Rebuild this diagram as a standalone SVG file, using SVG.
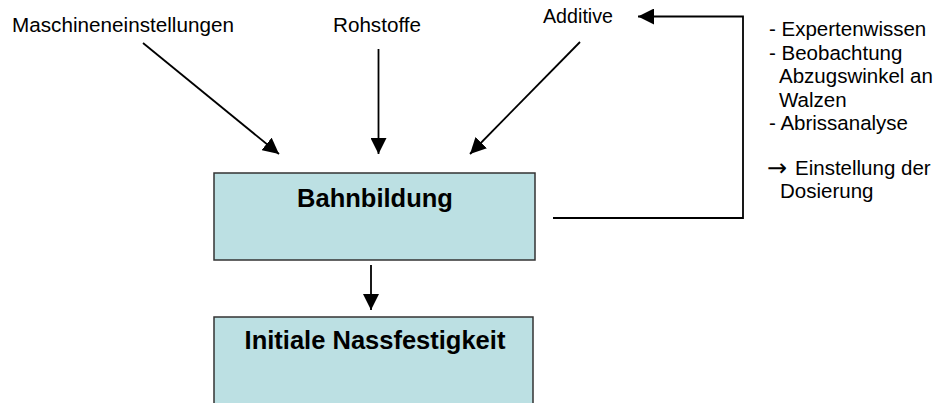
<svg xmlns="http://www.w3.org/2000/svg" width="943" height="403" viewBox="0 0 943 403">
  <style>
    .lbl { font-family: "Liberation Sans", Arial, sans-serif; font-size: 20.5px; fill: #000; }
    .sym { font-family: "DejaVu Sans", sans-serif; font-size: 24px; }
    .title { font-family: "Liberation Sans", Arial, sans-serif; font-size: 25.5px; font-weight: bold; fill: #000; }
    .box { fill: #BCE0E3; stroke: #333; stroke-width: 1.5; }
    .conn { fill: none; stroke: #000; stroke-width: 1.8; }
  </style>
  <defs>
    <marker id="arrow" viewBox="0 0 16 16" refX="16" refY="8" markerWidth="16" markerHeight="16" markerUnits="userSpaceOnUse" orient="auto">
      <path d="M0,0 L16,8 L0,16 Z" fill="#000"/>
    </marker>
  </defs>

  <!-- input labels -->
  <g id="maschineneinstellungen">
    <text class="lbl" x="12" y="32" textLength="222" lengthAdjust="spacingAndGlyphs">Maschineneinstellungen</text>
  </g>
  <g id="rohstoffe">
    <text class="lbl" x="333" y="32" textLength="88" lengthAdjust="spacingAndGlyphs">Rohstoffe</text>
  </g>
  <g id="additive">
    <text class="lbl" x="543" y="23" textLength="70" lengthAdjust="spacingAndGlyphs">Additive</text>
  </g>

  <!-- process boxes -->
  <g id="bahnbildung">
    <rect class="box" x="214" y="173" width="321" height="87"/>
    <text class="title" x="375" y="207" text-anchor="middle">Bahnbildung</text>
  </g>
  <g id="nassfestigkeit">
    <rect class="box" x="214" y="317" width="319" height="100"/>
    <text class="title" x="375" y="349" text-anchor="middle">Initiale Nassfestigkeit</text>
  </g>

  <!-- feedback notes -->
  <g id="rueckmeldung">
    <text class="lbl">
      <tspan x="769" y="36">- Expertenwissen</tspan>
      <tspan x="769" y="59.5">- Beobachtung</tspan>
      <tspan x="779" y="83">Abzugswinkel an</tspan>
      <tspan x="779" y="106.5">Walzen</tspan>
      <tspan x="769" y="130">- Abrissanalyse</tspan>
      <tspan class="sym" x="767" y="176">→</tspan><tspan x="795" y="175">Einstellung der</tspan>
      <tspan x="780" y="198">Dosierung</tspan>
    </text>
  </g>

  <!-- connectors -->
  <g id="connectors">
    <line class="conn" x1="143" y1="43" x2="279" y2="154" marker-end="url(#arrow)"/>
    <line class="conn" x1="378.5" y1="49" x2="378.5" y2="154" marker-end="url(#arrow)"/>
    <line class="conn" x1="580" y1="42" x2="470" y2="154" marker-end="url(#arrow)"/>
    <line class="conn" x1="371" y1="265" x2="371" y2="310" marker-end="url(#arrow)"/>
    <polyline class="conn" points="553,218 743,218 743,16.5 638,16.5" marker-end="url(#arrow)"/>
  </g>
</svg>
